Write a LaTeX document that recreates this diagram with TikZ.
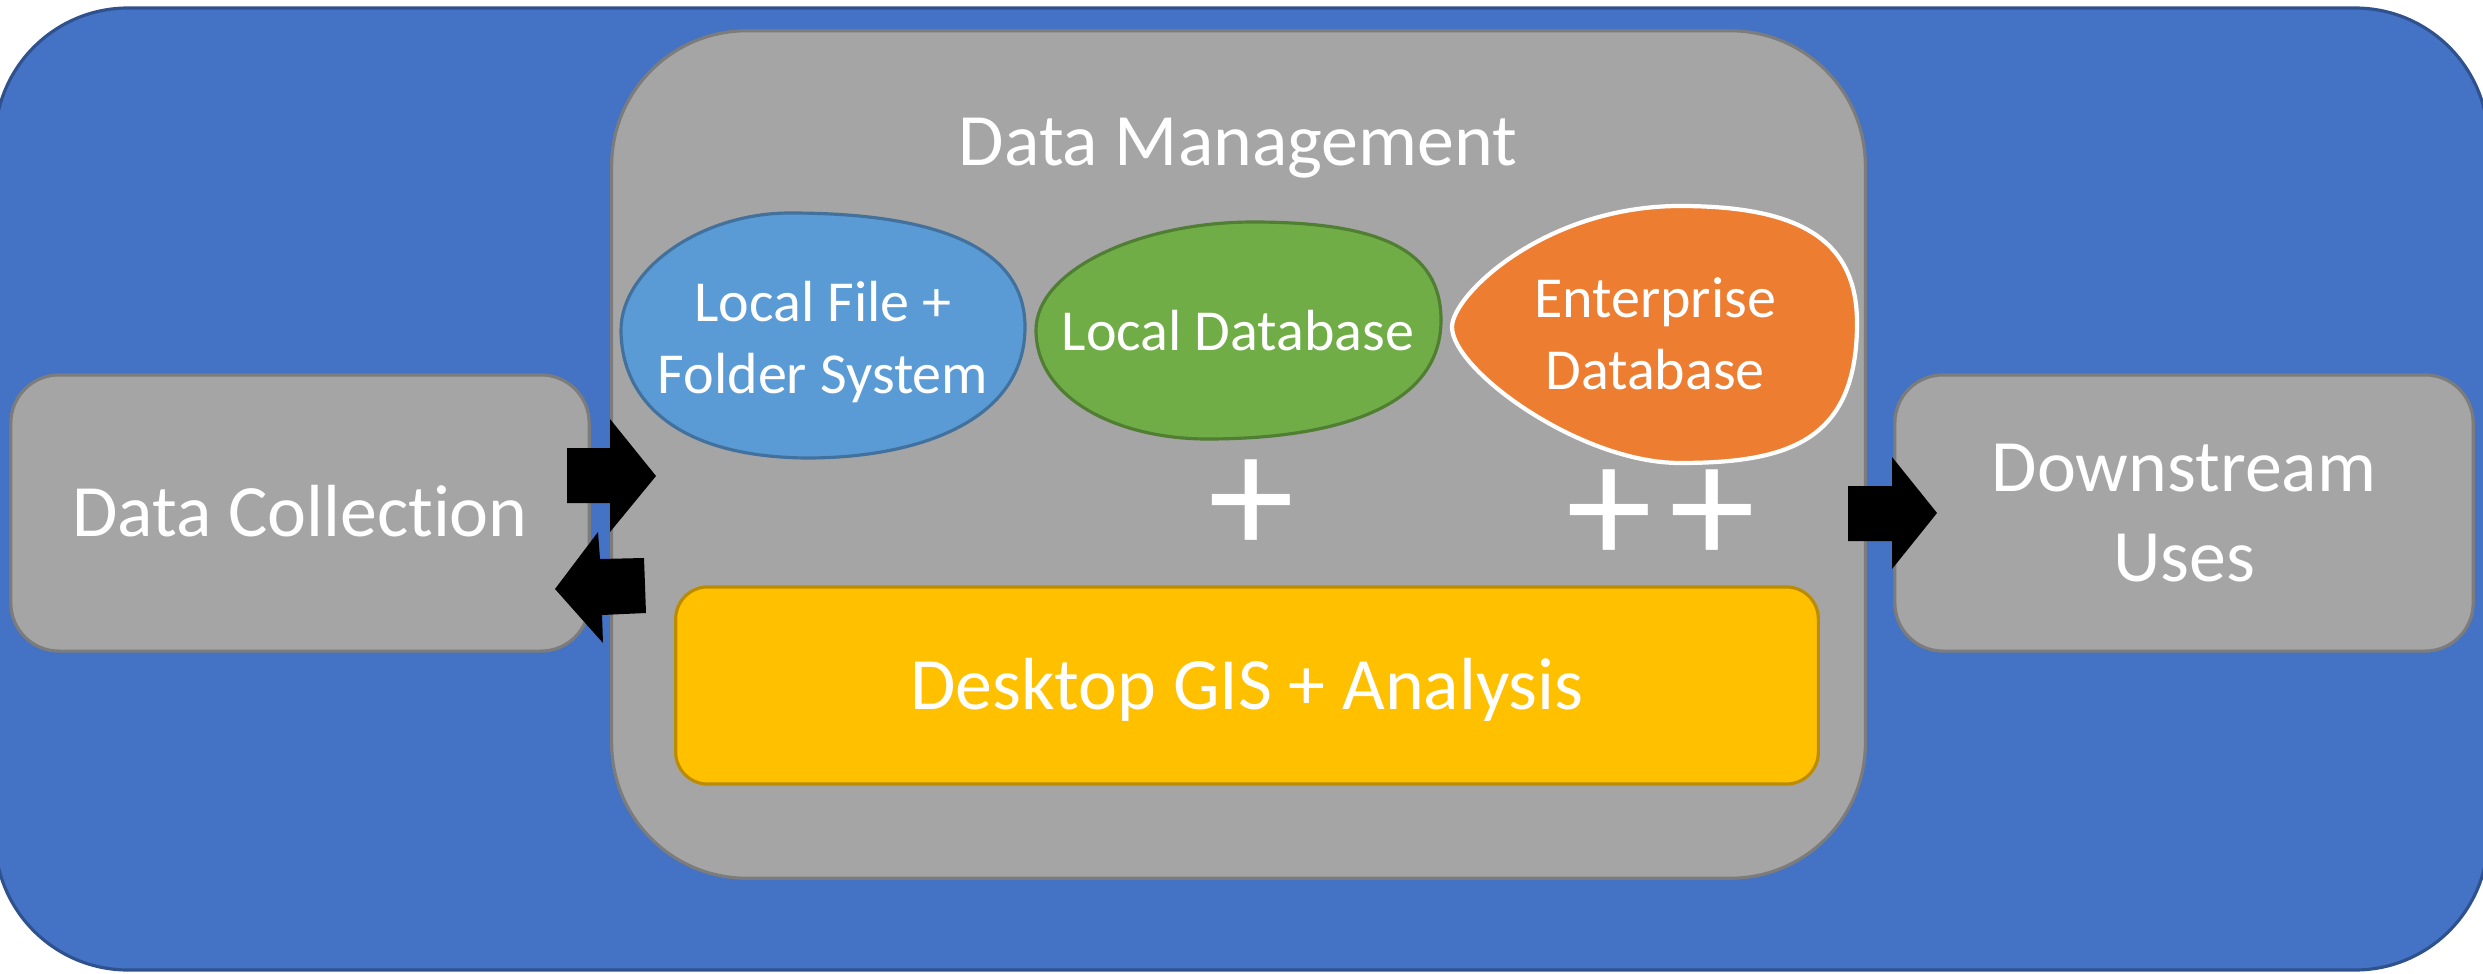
\documentclass[tikz,border=0pt]{standalone}
\usepackage{fontspec}
\setmainfont{Carlito}[Ligatures=NoCommon]
\usepackage{tikz}
\usetikzlibrary{calc}
\usetikzlibrary{positioning}
\definecolor{officeblue}{RGB}{68, 114, 196}
\definecolor{officebluedark}{RGB}{47, 82, 143}
\definecolor{silver}{RGB}{165, 165, 165}
\definecolor{silverdark}{RGB}{124, 124, 124}
\definecolor{skyblue}{RGB}{91, 155, 213}
\definecolor{skybluedark}{RGB}{65, 113, 156}
\definecolor{leafgreen}{RGB}{112, 173, 71}
\definecolor{leafgreendark}{RGB}{80, 126, 50}
\definecolor{tangerine}{RGB}{237, 125, 49}
\definecolor{sunflower}{RGB}{255, 192, 0}
\definecolor{sunflowerdark}{RGB}{188, 140, 0}

\begin{document}
\begin{tikzpicture}[x=0.01cm, y=-0.01cm,
        panel/.style={draw=silverdark, line width=0.9pt, fill=silver, text=white, rounded corners=0.48cm,
                      font=\fontsize{21}{25.5}\selectfont, align=center},
        capline/.style={text height=13.5pt, text depth=0pt},
        blob/.style={line width=0.9pt},
        blobtext/.style={text=white, font=\fontsize{16.5}{20.5}\selectfont, align=center},
        bigtext/.style={text=white, font=\fontsize{21}{25.5}\selectfont},
        plustext/.style={text=white, font=\fontsize{49}{54}\selectfont, inner sep=0pt}]
            % Frame
            \useasboundingbox                                                 (0, 0) rectangle (2483, 973);
            \clip                                                             (0, 0) rectangle (2483, 973);
            \draw[officebluedark, fill=officeblue, line width=0.9pt, rounded corners=1.33cm]
                                                                              (-5, 8) rectangle (2488, 970);
            % Data Management
            \node[panel, minimum width=12.53cm, minimum height=8.47cm, rounded corners=1.35cm]
                 (manage) at (1238.5, 454.5) {};
            \node[bigtext, anchor=base] (managetitle) at (1238, 166) {Data Management};
            % Local files
            \draw[blob, draw=skybluedark, fill=skyblue]
                 ( 621, 330) .. controls ( 621, 270) and ( 700, 213) .. ( 790, 213)
                             .. controls ( 920, 213) and (1025, 240) .. (1025, 327)
                             .. controls (1025, 420) and ( 920, 458) .. ( 807, 458)
                             .. controls ( 670, 457) and ( 621, 395) .. cycle;
            \node[blobtext] (localfile) at (823, 342) {Local File +\\Folder System};
            % Local database
            \draw[blob, draw=leafgreendark, fill=leafgreen]
                 (1036, 330) .. controls (1036, 270) and (1140, 222) .. (1253, 222)
                             .. controls (1380, 222) and (1441, 250) .. (1441, 320)
                             .. controls (1441, 410) and (1330, 439) .. (1207, 439)
                             .. controls (1120, 439) and (1036, 400) .. cycle;
            \node[blobtext, anchor=base] (localdb) at (1238, 350) {Local Database};
            % Enterprise database
            \draw[blob, draw=white, fill=tangerine, line width=1.2pt]
                 (1452, 327) .. controls (1452, 295) and (1545, 206) .. (1680, 206)
                             .. controls (1800, 206) and (1857, 240) .. (1857, 323)
                             .. controls (1857, 440) and (1790, 463) .. (1680, 463)
                             .. controls (1580, 463) and (1452, 370) .. cycle;
            \node[blobtext] (enterprise) at (1655, 334) {Enterprise\\Database};
            \node[plustext] (plusone) at (1251, 507) {+};
            \node[plustext] (plustwo) at (1661, 517) {+\kern5pt+};
            % Desktop GIS
            \node[panel, capline, draw=sunflowerdark, fill=sunflower, rounded corners=0.32cm,
                  minimum width=11.42cm, minimum height=1.97cm]
                 (desktop) at (1247, 685.5) {Desktop GIS + Analysis};
            % Side boxes
            \node[panel, capline, minimum width=5.78cm, minimum height=2.76cm]
                 (collect) at (300, 513) {Data Collection};
            \node[panel, minimum width=5.78cm, minimum height=2.76cm]
                 (downstream) at (2184, 513) {Downstream\\Uses};
            % Block arrows
            \fill[black] (567,448) -- (610,448) -- (610,419) -- (656,476) -- (610,532) -- (610,503) -- (567,503) -- cycle;
            \fill[black] (644,558) -- (600,559) -- (598,532) -- (555,589) -- (603,643) -- (602,615) -- (646,613) -- cycle;
            \fill[black] (1848,486) -- (1892,486) -- (1892,457) -- (1937,513) -- (1892,569) -- (1892,541) -- (1848,541) -- cycle;
        \end{tikzpicture}
\end{document}
